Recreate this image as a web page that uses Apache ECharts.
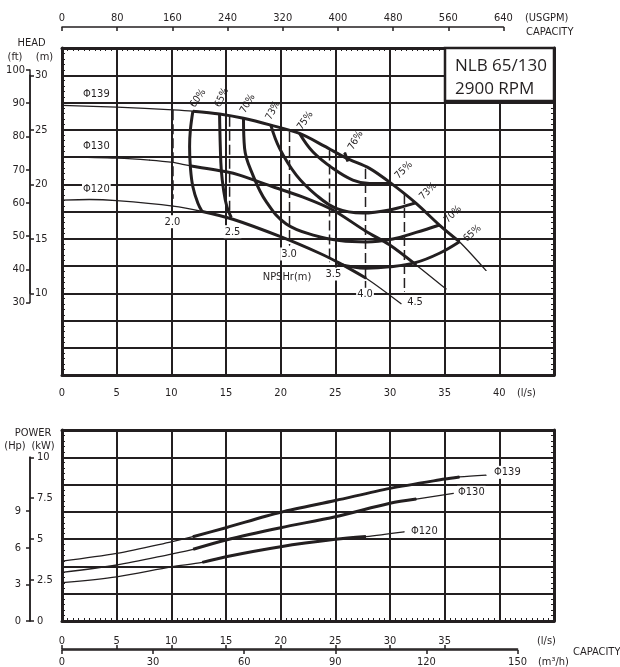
<!DOCTYPE html>
<html>
<head>
<meta charset="utf-8">
<title>NLB 65/130 2900 RPM</title>
<script src="https://cdn.jsdelivr.net/npm/echarts@6/dist/echarts.min.js"></script>
<style>
html,body{margin:0;padding:0;background:#ffffff;}
#chart{width:620px;height:667px;}
</style>
</head>
<body>
<div id="chart"></div>
<script>
// ---------------- data ----------------
// head curves  [flow l/s, head m]
const head139 = [[0,27.23],[5,27.08],[10.15,26.82],[11.97,26.7],[14.41,26.45],[16.6,26.05],[19.1,25.42],[21.73,24.66],[24,23.5],[26,22.4],[28.13,21.46],[30.11,20.08],[32.39,18.25],[34.52,16.26],[36.35,14.73],[38.79,12.08]];
const head130 = [[0,22.52],[5,22.4],[8,22.22],[10.15,22.0],[11.67,21.7],[15.03,21.14],[16.24,20.84],[19.29,19.77],[22.34,18.71],[24.77,17.64],[27.82,15.67],[29.95,14.45],[32.39,12.6],[35.14,10.38]];
const head120 = [[0,18.55],[2.5,18.6],[5,18.5],[10.15,18.0],[12.83,17.5],[15.63,16.79],[19.99,15.19],[23.56,13.67],[25.38,12.76],[27.82,11.38],[31.02,9.03]];
const impellerNames = ['Φ139','Φ130','Φ120'];

// efficiency iso-lines [flow l/s, head m]
const eff60  = [[11.97,26.7],[11.74,24.96],[11.67,23.43],[11.74,21.6],[11.97,19.77],[12.43,18.25],[12.83,17.48]];
const eff65a = [[14.41,26.45],[14.48,23.43],[14.57,21.3],[14.78,19.47],[15.08,17.94],[15.48,16.95]];
const eff65b = [[25.2,12.7],[27.82,12.3],[29.95,12.42],[32.39,12.83],[34.52,13.67],[36.35,14.73]];
const eff70  = [[16.6,26.05],[16.7,23.29],[17.46,20.84],[18.68,18.4],[20.51,16.36],[23.25,15.26],[25.38,14.84],[27.82,14.71],[30.26,14.98],[32.39,15.58],[34.52,16.26]];
const eff73  = [[19.1,25.42],[19.9,23.29],[21.43,20.84],[23.25,19.01],[25.08,17.79],[27.49,17.36],[29.95,17.64],[32.3,18.3]];
const eff75  = [[21.73,24.66],[22.94,22.98],[24.77,21.46],[26.6,20.38],[28.13,20.06],[30.11,20.08]];
const eff76  = [[25.85,22.9],[26.15,22.1]];
const effNames = ['60%','65%','70%','73%','75%','76%'];

// NPSHr marks
const npshFlow   = [10.15,15.33,20.81,24.47,27.76,31.32];
const npshTop    = [26.8,26.2,24.8,23.1,21.4,19.1];
const npshBottom = [18.7,17.5,14.4,12.9,10.3,10.15];
const npshValues = ['2.0','2.5','3.0','3.5','4.0','4.5'];

// power curves [flow l/s, kW]
const pow139 = [[0,3.66],[5,4.13],[10,4.84],[11.97,5.15],[15,5.7],[20,6.64],[25,7.36],[30,8.1],[35,8.67],[36.35,8.8],[38.79,8.91]];
const pow130 = [[0,2.97],[5,3.42],[10,4.09],[12,4.38],[15,4.95],[20,5.7],[25,6.37],[30,7.19],[32.4,7.45],[35.8,7.8]];
const pow120 = [[0,2.34],[5,2.7],[10,3.31],[12.83,3.58],[15,3.93],[20,4.54],[25,4.99],[27.8,5.16],[31.3,5.45]];

// axis tick values
const flowTicks = [0,5,10,15,20,25,30,35,40];
const hpTicks = [0,3,6,9,12];

// ---------------- styling / layout ----------------
const INK = '#231f20';
const FONT = "'Liberation Sans Narrow','DejaVu Sans Condensed','Arial Narrow',sans-serif";
const LS2GPM = 15.850323, LS2M3H = 3.6, FT = 0.3048, HP = 0.745699872;
const HX = 62, HW = 492, XMAX = 45;
const HT = 48, HH = 327, HMIN = 2.5, HMAX = 32.5;
const PT = 430, PH = 191, PMAX = 35/3;
const pxPerLs = HW / XMAX;
const headPx = m => HT + (HMAX - m) / (HMAX - HMIN) * HH;
const powPx = kw => PT + (PMAX - kw) / PMAX * PH;

const txt = {color: INK, fontFamily: FONT, fontSize: 11};
const frameLine = {show: true, onZero: false, lineStyle: {color: INK, width: 3}};
const thinLine = {show: true, onZero: false, lineStyle: {color: INK, width: 1.5}};
const split = {show: true, lineStyle: {color: INK, width: 2}};
const noSplit = {show: false};
const minor = n => ({show: true, splitNumber: n, length: 3, lineStyle: {color: INK, width: 1}});
const noMinor = {show: false};

const grids = [
  {left: HX, top: HT, width: HW, height: HH},                                   // 0 head
  {left: HX, top: PT, width: HW, height: PH},                                   // 1 power
  {left: HX, top: 27, width: 640 / LS2GPM * pxPerLs, height: 1},                // 2 USGPM
  {left: 30, top: headPx(100 * FT), height: headPx(30 * FT) - headPx(100 * FT), width: 1}, // 3 ft
  {left: 30, top: headPx(30), height: headPx(10) - headPx(30), width: 1},       // 4 m
  {left: 30, top: powPx(10), height: powPx(0) - powPx(10), width: 1},           // 5 kW
  {left: 30, top: powPx(10), height: powPx(0) - powPx(10), width: 1},           // 6 Hp
  {left: HX, top: 649, width: 150 / LS2M3H * pxPerLs, height: 1}                // 7 capacity
].map(g => Object.assign({outerBoundsMode: 'none', containLabel: false}, g));

const hiddenX = i => ({gridIndex: i, type: 'value', show: false, min: 0, max: 1});
const hiddenY = i => ({gridIndex: i, type: 'value', show: false, min: 0, max: 1});

const xAxis = [
  {gridIndex: 0, type: 'value', min: 0, max: XMAX, interval: 5, position: 'bottom', axisLine: frameLine,
   axisTick: {show: false}, minorTick: noMinor, splitLine: split,
   axisLabel: Object.assign({margin: 13, showMaxLabel: false, hideOverlap: false}, txt)},
  {gridIndex: 0, type: 'value', min: 0, max: XMAX, interval: 5, position: 'top', axisLine: frameLine,
   axisTick: {show: false, inside: true}, minorTick: minor(10), splitLine: noSplit, axisLabel: {show: false}},
  {gridIndex: 1, type: 'value', min: 0, max: XMAX, interval: 5, position: 'bottom', axisLine: frameLine,
   axisTick: {show: false, inside: true}, minorTick: minor(10), splitLine: split, axisLabel: {show: false}},
  {gridIndex: 1, type: 'value', min: 0, max: XMAX, interval: 5, position: 'top', axisLine: frameLine,
   axisTick: {show: false}, minorTick: noMinor, splitLine: noSplit, axisLabel: {show: false}},
  {gridIndex: 2, type: 'value', min: 0, max: 640, interval: 80, position: 'top', axisLine: thinLine,
   axisTick: {show: true, inside: true, length: 4, lineStyle: {color: INK, width: 1.5}}, splitLine: noSplit,
   axisLabel: Object.assign({margin: 3.5, hideOverlap: false}, txt)},
  {gridIndex: 7, type: 'value', min: 0, max: 150 / LS2M3H, interval: 5, position: 'top', axisLine: thinLine,
   axisTick: {show: true, length: 4, customValues: flowTicks, lineStyle: {color: INK, width: 1.5}}, splitLine: noSplit,
   axisLabel: Object.assign({margin: 2.5, showMaxLabel: false, customValues: flowTicks, hideOverlap: false}, txt)},
  {gridIndex: 7, type: 'value', min: 0, max: 150, interval: 30, position: 'bottom', axisLine: thinLine,
   axisTick: {show: true, length: 4, lineStyle: {color: INK, width: 1.5}}, splitLine: noSplit,
   axisLabel: Object.assign({margin: 6.5, hideOverlap: false}, txt)},
  hiddenX(3), hiddenX(4), hiddenX(5), hiddenX(6)
];

const yAxis = [
  {gridIndex: 0, type: 'value', min: HMIN, max: HMAX, interval: 2.5, position: 'left', axisLine: frameLine,
   axisTick: {show: false, inside: true}, minorTick: minor(5), splitLine: split, axisLabel: {show: false}},
  {gridIndex: 0, type: 'value', min: HMIN, max: HMAX, interval: 2.5, position: 'right', axisLine: frameLine,
   axisTick: {show: false, inside: true}, minorTick: minor(5), splitLine: noSplit, axisLabel: {show: false}},
  {gridIndex: 1, type: 'value', min: 0, max: PMAX, interval: 5/3, position: 'left', axisLine: frameLine,
   axisTick: {show: false, inside: true}, minorTick: minor(5), splitLine: split, axisLabel: {show: false}},
  {gridIndex: 1, type: 'value', min: 0, max: PMAX, interval: 5/3, position: 'right', axisLine: frameLine,
   axisTick: {show: false, inside: true}, minorTick: minor(5), splitLine: noSplit, axisLabel: {show: false}},
  {gridIndex: 3, type: 'value', min: 30, max: 100, interval: 10, position: 'left', axisLine: thinLine,
   axisTick: {show: true, length: 4, lineStyle: {color: INK, width: 1.5}}, splitLine: noSplit,
   axisLabel: Object.assign({margin: 5, hideOverlap: false}, txt)},
  {gridIndex: 4, type: 'value', min: 10, max: 30, interval: 5, position: 'left', axisLine: thinLine,
   axisTick: {show: true, inside: true, length: 4, lineStyle: {color: INK, width: 1.5}}, splitLine: noSplit,
   axisLabel: Object.assign({inside: true, margin: 5, hideOverlap: false}, txt)},
  {gridIndex: 5, type: 'value', min: 0, max: 10, interval: 2.5, position: 'left', axisLine: thinLine,
   axisTick: {show: true, inside: true, length: 4, lineStyle: {color: INK, width: 1.5}}, splitLine: noSplit,
   axisLabel: Object.assign({inside: true, margin: 7, hideOverlap: false}, txt)},
  {gridIndex: 6, type: 'value', min: 0, max: 10 / HP, interval: 3, position: 'left', axisLine: thinLine,
   axisTick: {show: true, length: 4, customValues: hpTicks, lineStyle: {color: INK, width: 1.5}}, splitLine: noSplit,
   axisLabel: Object.assign({margin: 9, showMaxLabel: false, customValues: hpTicks, hideOverlap: false}, txt)},
  hiddenY(2), hiddenY(7)
];

// ---------------- series helpers ----------------
function mk(data, extra) {
  return Object.assign({
    type: 'line', data: data, smooth: 0.3, symbol: 'circle', symbolSize: 1,
    showSymbol: true, showAllSymbol: true, silent: true, animation: false, clip: false,
    lineStyle: {color: INK, width: 1.3}, itemStyle: {color: INK}, label: {show: false},
    emphasis: {disabled: true}, z: 4
  }, extra);
}
function withLabels(data, marks) {   // marks: {index: labelOption}
  return data.map((p, i) => {
    const k = i - data.length;        // negative index support
    const lab = marks[i] || marks[k];
    return lab ? {value: p, label: lab} : p;
  });
}
function thick(data, lo, hi) { return data.filter(p => p[0] >= lo - 1e-9 && p[0] <= hi + 1e-9); }
function effLab(text, rot, pos) {
  return {show: true, formatter: text, rotate: rot, position: pos, align: 'left', verticalAlign: 'middle',
          color: INK, fontFamily: FONT, fontSize: 10};
}
function nameLab(text, pos) {
  return {show: true, formatter: text, position: pos, align: 'left', verticalAlign: 'middle',
          color: INK, fontFamily: FONT, fontSize: 11, backgroundColor: '#ffffff', padding: [1, 1]};
}
function numLab(text, pos) {
  return {show: true, formatter: text, position: pos, align: 'center', verticalAlign: 'middle',
          color: INK, fontFamily: FONT, fontSize: 11, backgroundColor: '#ffffff', padding: [1, 1]};
}
const H = {xAxisIndex: 0, yAxisIndex: 0};
const P = {xAxisIndex: 2, yAxisIndex: 2};

const series = [];

// NPSHr dashed lines
npshFlow.forEach((q, i) => {
  const pos = [[0, 23.8], [3.4, 20.7], [0, 9.2], [4.3, 12.9], [0, 4.8], [11.1, 10.6]][i];
  series.push(mk(withLabels([[q, npshTop[i]], [q, npshBottom[i]]], {1: numLab(npshValues[i], pos)}),
    Object.assign({smooth: false, z: 3, lineStyle: {color: INK, width: 1.5, type: [10, 4]}}, H)));
});

// head curves (thin full + thick operating range)
const heads = [head139, head130, head120];
const headRanges = [[11.97, 36.35], [11.67, 32.39], [12.83, 27.82]];
const headLabPos = [[20.5, -10.9], [20.5, -10.3], [20.5, -10.3]];
heads.forEach((d, i) => {
  series.push(mk(withLabels(d, {0: nameLab(impellerNames[i], headLabPos[i])}), Object.assign({}, H)));
  series.push(mk(thick(d, headRanges[i][0], headRanges[i][1]), Object.assign({lineStyle: {color: INK, width: 3}}, H)));
});

// efficiency iso-lines
const effStyle = Object.assign({smooth: 0.4, lineStyle: {color: INK, width: 3}, z: 5}, H);
series.push(mk(withLabels(eff60,  {0: effLab(effNames[0], 55, [0, -4.2])}), effStyle));
series.push(mk(withLabels(eff65a, {0: effLab(effNames[1], 65, [-1.4, -6.8])}), effStyle));
series.push(mk(withLabels(eff65b, {'-1': effLab(effNames[1], 42, [6, -1])}), effStyle));
series.push(mk(withLabels(eff70,  {0: effLab(effNames[2], 60, [-0.3, -5.4]), '-1': effLab(effNames[2], 45, [7, -3])}), effStyle));
series.push(mk(withLabels(eff73,  {0: effLab(effNames[3], 62, [-1.9, -5.3]), '-1': effLab(effNames[3], 45, [6.5, -4])}), effStyle));
series.push(mk(withLabels(eff75,  {0: effLab(effNames[4], 55, [0.6, -4.1]), '-1': effLab(effNames[4], 45, [6, -5.5])}), effStyle));
series.push(mk(withLabels(eff76,  {0: effLab(effNames[5], 60, [6.6, -3.0])}), Object.assign({}, effStyle, {smooth: false})));

// power curves
const pows = [pow139, pow130, pow120];
const powRanges = [[11.97, 36.35], [12, 32.4], [12.83, 27.8]];
const powLabPos = [[7.4, -2.3], [4.1, -0.5], [6.3, 0]];
pows.forEach((d, i) => {
  series.push(mk(withLabels(d, {'-1': nameLab(impellerNames[i], powLabPos[i])}), Object.assign({}, P)));
  series.push(mk(thick(d, powRanges[i][0], powRanges[i][1]), Object.assign({lineStyle: {color: INK, width: 3}}, P)));
});

// ---------------- text annotations ----------------
function T(text, x, y, align, size, fam) {
  return {type: 'text', z: 100, silent: true,
    style: {text: text, x: x, y: y, fill: INK, font: (size || 11) + 'px ' + (fam || FONT),
            align: align || 'left', textAlign: align || 'left', verticalAlign: 'middle', textVerticalAlign: 'middle'}};
}
const graphic = [
  T('HEAD', 31.5, 43, 'center'),
  T('(ft)', 15, 57, 'center'),
  T('(m)', 44.5, 57, 'center'),
  T('(USGPM)', 525, 18),
  T('CAPACITY', 526, 32),
  T('(l/s)', 517, 393),
  T('NPSHr(m)', 287, 277, 'center'),
  T('POWER', 33, 433, 'center'),
  T('(Hp)', 15, 446, 'center'),
  T('(kW)', 43, 446, 'center'),
  T('(l/s)', 537, 641),
  T('(m³/h)', 538, 662),
  T('CAPACITY', 573, 652),
  {type: 'rect', z: 99, silent: true, shape: {x: 445, y: 48, width: 109, height: 53},
   style: {fill: '#ffffff', stroke: INK, lineWidth: 2.5}},
  T('NLB 65/130', 455, 66, 'left', 17, "'Open Sans','Noto Sans',sans-serif"),
  T('2900 RPM', 455, 89, 'left', 17, "'Open Sans','Noto Sans',sans-serif")
];

const chart = echarts.init(document.getElementById('chart'), null, {renderer: 'canvas'});
chart.setOption({
  animation: false,
  backgroundColor: '#ffffff',
  textStyle: {fontFamily: FONT, color: INK},
  grid: grids,
  xAxis: xAxis,
  yAxis: yAxis,
  series: series,
  graphic: graphic
});
</script>
</body>
</html>
